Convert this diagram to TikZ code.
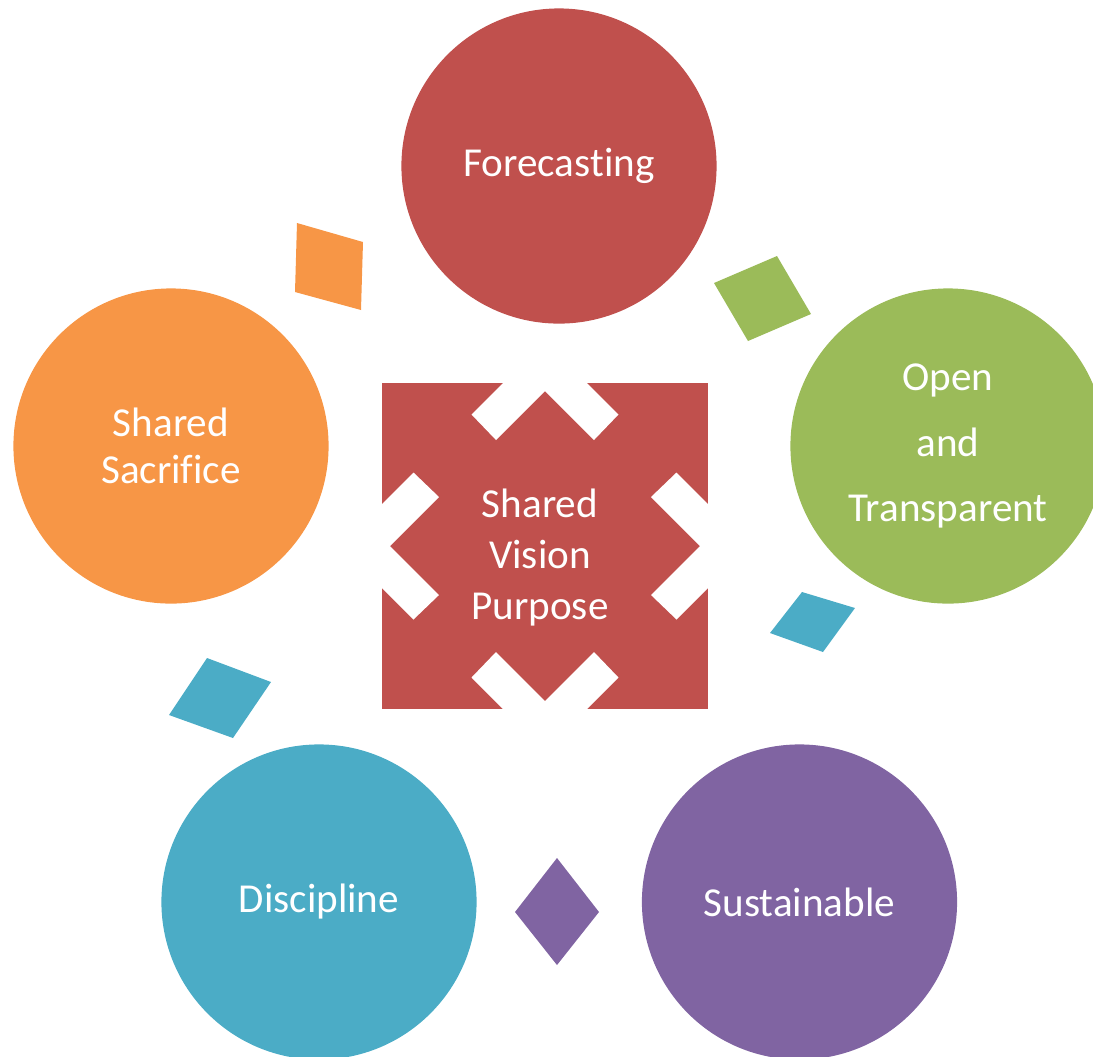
\documentclass[tikz,border=0pt]{standalone}
\usepackage{fontspec}
\setmainfont[Ligatures={NoCommon}]{Carlito}
\definecolor{accred}{HTML}{C0504D}
\definecolor{accgreen}{HTML}{9BBB59}
\definecolor{accblue}{HTML}{4BACC6}
\definecolor{accpurple}{HTML}{8064A2}
\definecolor{accorange}{HTML}{F79646}
\tikzset{bubble/.style={circle,minimum size=3.15cm,inner sep=0cm,text=white,align=center,font=\fontsize{11.7}{14.5}\selectfont},
hub/.style={rectangle,minimum width=3.25cm,minimum height=3.26cm,inner sep=0cm,fill=accred},
hub text/.style={text=white,align=center,font=\fontsize{11.7}{14.5}\selectfont},
notch/.style={fill=white},
gem/.style={line join=miter}}

\begin{document}
\begin{tikzpicture}[x=0.01cm,y=-0.01cm]
\useasboundingbox (0,0) rectangle (1093,1056);

%% Coordinates of nodes.
\coordinate (n0) at (545,546);
\coordinate (n0t) at (540,558);
\coordinate (n1) at (559,166);
\coordinate (n2) at (948,446);
\coordinate (n3) at (799.5,902);
\coordinate (n4) at (319,902);
\coordinate (n5) at (171,446);

%% centre square
\node [hub] (vision) at (n0) {};
\foreach \a in {0,90,180,270}
  \fill [notch,shift={(vision.center)},rotate=\a] (-73.5,-131.5) -- (-40,-165) -- (40,-165) -- (73.5,-131.5) -- (49,-106) -- (0,-155) -- (-49,-106) -- cycle;
\node [hub text] (visionlabel) at (n0t) {Shared\\Vision\\Purpose};

%% circles
\node [bubble,fill=accred] (forecast) at (n1) {Forecasting};
\node [bubble,fill=accgreen] (open) at (n2) {Open\\[4pt]and\\[4pt]Transparent};
\node [bubble,fill=accpurple] (sustain) at (n3) {Sustainable};
\node [bubble,fill=accblue] (discipline) at (n4) {Discipline};
\node [bubble,fill=accorange] (sacrifice) at (n5) {Shared\\[-1.1pt]Sacrifice};

%% diamonds
\fill [gem,accorange] (297,223) -- (363,242) -- (361,310) -- (295,292) -- cycle;
\fill [gem,accgreen] (714,283) -- (777,256) -- (811,314) -- (748,341) -- cycle;
\fill [gem,accblue] (802,592) -- (855,608) -- (823,652) -- (770,633) -- cycle;
\fill [gem,accblue] (207,658) -- (271,682) -- (233,738) -- (169,715) -- cycle;
\fill [gem,accpurple] (557,858) -- (599,912) -- (557,965) -- (515,912) -- cycle;

\end{tikzpicture}
\end{document}
